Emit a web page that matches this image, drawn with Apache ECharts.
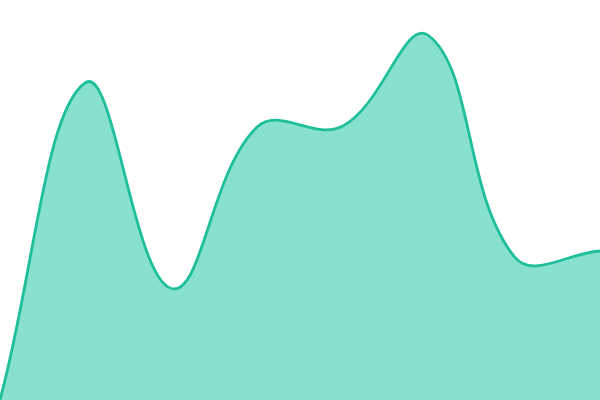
<!DOCTYPE html>
<html>
<head>
    <meta charset="utf-8">
    <title>Area</title>
    <style>html, body { margin: 0; padding: 0; background: #fff; }</style>
</head>
<body>
    <div id="main" style="width: 600px; height: 400px;"></div>
    <script src="https://cdn.jsdelivr.net/npm/echarts@6/dist/echarts.min.js"></script>
    <script type="text/javascript">
        var categories = ['A', 'B', 'C', 'D', 'E', 'F', 'G', 'H'];
        var values = [0, 317.5, 111.5, 273, 274, 364.5, 143.3, 149];
        var tension = 0.4;

        // tension spline (control points weighted by segment lengths)
        function controlPoints(prev, cur, next, t) {
            var d01 = Math.hypot(cur[0] - prev[0], cur[1] - prev[1]);
            var d12 = Math.hypot(next[0] - cur[0], next[1] - cur[1]);
            var s01 = d01 / (d01 + d12) || 0;
            var s12 = d12 / (d01 + d12) || 0;
            var fa = t * s01, fb = t * s12;
            return {
                before: [cur[0] - fa * (next[0] - prev[0]), cur[1] - fa * (next[1] - prev[1])],
                after: [cur[0] + fb * (next[0] - prev[0]), cur[1] + fb * (next[1] - prev[1])]
            };
        }

        function splinePath(pts) {
            var n = pts.length;
            var cps = pts.map(function (p, i) {
                return controlPoints(pts[Math.max(i - 1, 0)], p, pts[Math.min(i + 1, n - 1)], tension);
            });
            var d = 'M' + pts[0][0] + ',' + pts[0][1];
            for (var i = 0; i < n - 1; i++) {
                var a = cps[i].after, b = cps[i + 1].before;
                d += ' C' + a[0] + ',' + a[1] + ' ' + b[0] + ',' + b[1] + ' ' + pts[i + 1][0] + ',' + pts[i + 1][1];
            }
            return d;
        }

        var myChart = echarts.init(document.getElementById('main'));
        var option = {
            animation: false,
            grid: { left: 0, right: 0, top: 0, bottom: 0 },
            xAxis: {
                type: 'category',
                boundaryGap: false,
                data: categories,
                show: false
            },
            yAxis: {
                type: 'value',
                min: 0,
                max: 400,
                show: false
            },
            series: [{
                type: 'custom',
                data: values.map(function (v, i) { return [i, v]; }),
                renderItem: function (params, api) {
                    if (params.dataIndex !== 0) return null;
                    var pts = values.map(function (v, i) { return api.coord([i, v]); });
                    var line = splinePath(pts);
                    var first = api.coord([0, 0]);
                    var last = api.coord([values.length - 1, 0]);
                    var area = line + ' L' + last[0] + ',' + last[1] + ' L' + first[0] + ',' + first[1] + ' Z';
                    return {
                        type: 'group',
                        children: [{
                            type: 'path',
                            shape: { pathData: area },
                            style: { fill: '#88e0cf', stroke: null }
                        }, {
                            type: 'path',
                            shape: { pathData: line },
                            style: { fill: null, stroke: '#1fbf9b', lineWidth: 2.8 }
                        }]
                    };
                }
            }]
        };
        myChart.setOption(option);
    </script>
</body>
</html>
